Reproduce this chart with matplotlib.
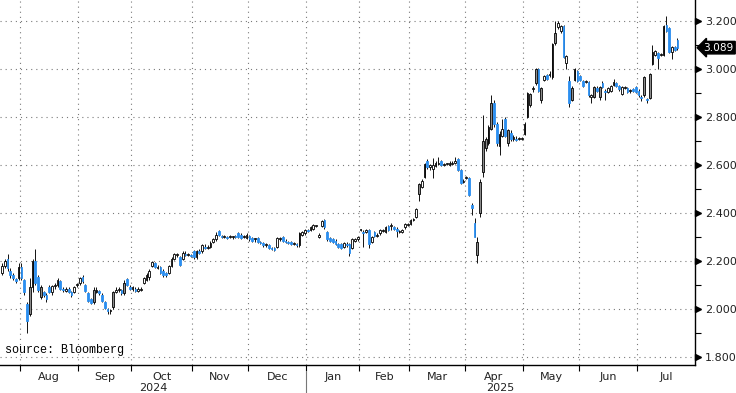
import numpy as np
import pandas as pd
import matplotlib
matplotlib.use("Agg")
import matplotlib.pyplot as plt

# daily OHLC, one bar per Tokyo trading day from 2024-07-23
opens = [
    2.15, 2.18, 2.21, 2.16, 2.14, 2.125, 2.13, 2.175, 2.12, 2.02,
    1.98, 2.09, 2.20, 2.135, 2.05, 2.07, 2.06, 2.09, 2.07, 2.095,
    2.10, 2.115, 2.085, 2.075, 2.085, 2.07, 2.07, 2.10, 2.11, 2.135,
    2.10, 2.065, 2.04, 2.03, 2.07, 2.075, 2.06, 2.03, 2.00, 1.99,
    2.01, 2.07, 2.08, 2.08, 2.065, 2.125, 2.09, 2.085, 2.085, 2.075,
    2.08, 2.11, 2.12, 2.135, 2.18, 2.19, 2.17, 2.175, 2.16, 2.15,
    2.15, 2.18, 2.21, 2.225, 2.215, 2.21, 2.23, 2.225, 2.225, 2.24,
    2.215, 2.24, 2.24, 2.26, 2.255, 2.26, 2.28, 2.29, 2.325, 2.305,
    2.30, 2.30, 2.30, 2.30, 2.305, 2.315, 2.31, 2.30, 2.295, 2.305,
    2.295, 2.29, 2.295, 2.28, 2.275, 2.265, 2.265, 2.255, 2.255, 2.26,
    2.29, 2.30, 2.285, 2.28, 2.28, 2.27, 2.27, 2.265, 2.31, 2.315,
    2.33, 2.33, 2.335, 2.345, 2.30, 2.345, 2.37, 2.32, 2.295, 2.29,
    2.285, 2.27, 2.27, 2.26, 2.27, 2.27, 2.255, 2.285, 2.29, 2.33,
    2.32, 2.32, 2.33, 2.28, 2.32, 2.305, 2.315, 2.325, 2.32, 2.345,
    2.345, 2.34, 2.335, 2.32, 2.32, 2.34, 2.35, 2.355, 2.37, 2.385,
    2.48, 2.51, 2.55, 2.615, 2.59, 2.585, 2.595, 2.605, 2.615, 2.60,
    2.605, 2.60, 2.605, 2.61, 2.625, 2.58, 2.53, 2.545, 2.545, 2.435,
    2.36, 2.225, 2.40, 2.57, 2.67, 2.69, 2.75, 2.86, 2.77, 2.68,
    2.72, 2.79, 2.69, 2.735, 2.71, 2.71, 2.71, 2.71, 2.73, 2.80,
    2.85, 2.915, 2.94, 3.00, 2.87, 2.955, 2.975, 2.975, 2.965, 3.11,
    3.175, 3.16, 3.18, 3.025, 2.95, 2.87, 2.955, 2.99, 2.97, 2.95,
    2.945, 2.945, 2.885, 2.885, 2.92, 2.885, 2.94, 2.91, 2.905, 2.91,
    2.935, 2.94, 2.93, 2.895, 2.92, 2.92, 2.91, 2.915, 2.925, 2.91,
    2.885, 2.89, 2.875, 2.88, 3.02, 3.06, 3.065, 3.06, 3.06, 3.185,
    3.17, 3.07, 3.09, 3.12,
]
highs = [
    2.19, 2.21, 2.23, 2.17, 2.15, 2.13, 2.19, 2.19, 2.125, 2.03,
    2.13, 2.21, 2.25, 2.14, 2.10, 2.075, 2.065, 2.10, 2.10, 2.11,
    2.13, 2.12, 2.09, 2.09, 2.09, 2.075, 2.095, 2.11, 2.135, 2.14,
    2.105, 2.07, 2.045, 2.09, 2.09, 2.08, 2.065, 2.035, 2.005, 2.00,
    2.075, 2.09, 2.09, 2.085, 2.12, 2.13, 2.10, 2.095, 2.09, 2.09,
    2.09, 2.135, 2.15, 2.165, 2.20, 2.195, 2.185, 2.18, 2.165, 2.155,
    2.185, 2.215, 2.235, 2.235, 2.22, 2.24, 2.24, 2.235, 2.23, 2.245,
    2.245, 2.25, 2.27, 2.27, 2.265, 2.285, 2.295, 2.32, 2.33, 2.31,
    2.31, 2.305, 2.31, 2.305, 2.31, 2.32, 2.315, 2.31, 2.315, 2.31,
    2.30, 2.295, 2.30, 2.285, 2.28, 2.275, 2.27, 2.26, 2.26, 2.30,
    2.30, 2.305, 2.29, 2.285, 2.285, 2.28, 2.275, 2.32, 2.325, 2.335,
    2.335, 2.345, 2.355, 2.35, 2.315, 2.37, 2.375, 2.325, 2.30, 2.295,
    2.29, 2.275, 2.275, 2.28, 2.28, 2.275, 2.295, 2.295, 2.305, 2.335,
    2.33, 2.335, 2.335, 2.305, 2.325, 2.315, 2.335, 2.335, 2.345, 2.35,
    2.36, 2.345, 2.34, 2.33, 2.335, 2.36, 2.36, 2.375, 2.38, 2.42,
    2.525, 2.54, 2.61, 2.625, 2.605, 2.63, 2.615, 2.635, 2.62, 2.61,
    2.61, 2.615, 2.615, 2.635, 2.63, 2.585, 2.54, 2.555, 2.55, 2.44,
    2.38, 2.30, 2.54, 2.81, 2.715, 2.765, 2.89, 2.87, 2.78, 2.74,
    2.79, 2.80, 2.75, 2.745, 2.725, 2.72, 2.715, 2.715, 2.78, 2.905,
    2.90, 2.93, 3.005, 3.005, 2.925, 2.975, 2.98, 2.99, 3.11, 3.20,
    3.20, 3.185, 3.185, 3.06, 2.97, 2.93, 3.005, 2.995, 2.975, 2.955,
    2.955, 2.95, 2.895, 2.93, 2.93, 2.93, 2.95, 2.915, 2.925, 2.935,
    2.96, 2.945, 2.935, 2.93, 2.93, 2.925, 2.915, 2.92, 2.93, 2.915,
    2.89, 2.97, 2.88, 2.985, 3.10, 3.08, 3.07, 3.065, 3.185, 3.22,
    3.175, 3.095, 3.095, 3.13,
]
lows = [
    2.14, 2.17, 2.16, 2.13, 2.12, 2.11, 2.12, 2.12, 2.06, 1.90,
    1.97, 2.07, 2.10, 2.07, 2.04, 2.05, 2.03, 2.065, 2.06, 2.085,
    2.09, 2.08, 2.07, 2.07, 2.065, 2.05, 2.065, 2.09, 2.10, 2.11,
    2.07, 2.03, 2.02, 2.02, 2.065, 2.06, 2.03, 2.00, 1.98, 1.98,
    2.00, 2.065, 2.07, 2.06, 2.06, 2.095, 2.08, 2.075, 2.07, 2.07,
    2.075, 2.105, 2.115, 2.12, 2.175, 2.17, 2.165, 2.145, 2.135, 2.135,
    2.145, 2.175, 2.205, 2.215, 2.18, 2.205, 2.22, 2.22, 2.215, 2.21,
    2.21, 2.23, 2.235, 2.25, 2.25, 2.255, 2.275, 2.285, 2.305, 2.295,
    2.295, 2.29, 2.295, 2.29, 2.295, 2.295, 2.29, 2.295, 2.29, 2.285,
    2.28, 2.28, 2.275, 2.27, 2.26, 2.26, 2.25, 2.245, 2.24, 2.255,
    2.285, 2.28, 2.275, 2.27, 2.265, 2.265, 2.26, 2.26, 2.305, 2.31,
    2.32, 2.325, 2.33, 2.34, 2.295, 2.34, 2.335, 2.285, 2.28, 2.275,
    2.265, 2.255, 2.25, 2.255, 2.26, 2.22, 2.25, 2.28, 2.285, 2.325,
    2.26, 2.315, 2.255, 2.275, 2.30, 2.30, 2.31, 2.32, 2.315, 2.325,
    2.33, 2.33, 2.30, 2.315, 2.315, 2.335, 2.345, 2.35, 2.365, 2.38,
    2.45, 2.505, 2.545, 2.585, 2.58, 2.545, 2.59, 2.60, 2.595, 2.595,
    2.60, 2.595, 2.60, 2.605, 2.575, 2.52, 2.525, 2.54, 2.47, 2.39,
    2.30, 2.19, 2.385, 2.55, 2.66, 2.685, 2.745, 2.76, 2.68, 2.64,
    2.715, 2.715, 2.68, 2.70, 2.70, 2.70, 2.705, 2.705, 2.725, 2.795,
    2.84, 2.905, 2.935, 2.905, 2.86, 2.95, 2.955, 2.965, 2.96, 3.10,
    3.165, 3.15, 3.045, 3.00, 2.84, 2.865, 2.95, 2.945, 2.95, 2.925,
    2.94, 2.885, 2.86, 2.88, 2.905, 2.87, 2.92, 2.87, 2.90, 2.905,
    2.93, 2.925, 2.91, 2.89, 2.915, 2.90, 2.90, 2.905, 2.90, 2.885,
    2.865, 2.885, 2.86, 2.875, 3.015, 3.055, 3.00, 3.055, 3.055, 3.155,
    3.065, 3.04, 3.075, 3.08,
]
closes = [
    2.18, 2.20, 2.17, 2.14, 2.13, 2.115, 2.175, 2.13, 2.07, 1.95,
    2.09, 2.20, 2.11, 2.08, 2.09, 2.06, 2.04, 2.07, 2.095, 2.10,
    2.12, 2.085, 2.08, 2.085, 2.07, 2.06, 2.09, 2.10, 2.13, 2.115,
    2.075, 2.035, 2.025, 2.08, 2.08, 2.065, 2.035, 2.005, 1.99, 1.995,
    2.07, 2.08, 2.085, 2.065, 2.11, 2.10, 2.085, 2.09, 2.075, 2.085,
    2.08, 2.13, 2.14, 2.16, 2.195, 2.175, 2.175, 2.15, 2.14, 2.14,
    2.18, 2.21, 2.23, 2.23, 2.185, 2.235, 2.225, 2.23, 2.22, 2.215,
    2.24, 2.235, 2.265, 2.255, 2.26, 2.275, 2.29, 2.31, 2.31, 2.30,
    2.305, 2.295, 2.305, 2.30, 2.30, 2.30, 2.295, 2.305, 2.31, 2.29,
    2.285, 2.29, 2.28, 2.275, 2.265, 2.265, 2.255, 2.25, 2.245, 2.295,
    2.295, 2.285, 2.28, 2.275, 2.27, 2.275, 2.265, 2.315, 2.32, 2.33,
    2.325, 2.34, 2.35, 2.345, 2.31, 2.365, 2.34, 2.29, 2.285, 2.28,
    2.27, 2.26, 2.255, 2.275, 2.265, 2.235, 2.29, 2.29, 2.30, 2.33,
    2.315, 2.33, 2.27, 2.30, 2.305, 2.31, 2.33, 2.33, 2.34, 2.33,
    2.345, 2.335, 2.325, 2.325, 2.33, 2.355, 2.355, 2.37, 2.375, 2.415,
    2.52, 2.535, 2.605, 2.59, 2.60, 2.60, 2.61, 2.61, 2.60, 2.605,
    2.605, 2.61, 2.61, 2.615, 2.58, 2.525, 2.535, 2.55, 2.475, 2.42,
    2.30, 2.28, 2.53, 2.70, 2.71, 2.76, 2.86, 2.77, 2.69, 2.73,
    2.75, 2.72, 2.745, 2.71, 2.715, 2.705, 2.71, 2.71, 2.77, 2.90,
    2.895, 2.92, 3.00, 2.91, 2.92, 2.97, 2.96, 2.98, 3.105, 3.15,
    3.19, 3.18, 3.05, 3.055, 2.86, 2.92, 3.00, 2.95, 2.955, 2.93,
    2.95, 2.89, 2.89, 2.925, 2.91, 2.925, 2.925, 2.905, 2.92, 2.93,
    2.945, 2.93, 2.915, 2.925, 2.925, 2.905, 2.91, 2.91, 2.905, 2.89,
    2.88, 2.965, 2.87, 2.98, 3.07, 3.075, 3.045, 3.06, 3.18, 3.16,
    3.07, 3.09, 3.08, 3.089,
]

jp_holidays = [
    "2024-08-12", "2024-09-16", "2024-09-23", "2024-10-14", "2024-11-04",
    "2024-12-31", "2025-01-01", "2025-01-02", "2025-01-03", "2025-01-13",
    "2025-02-11", "2025-02-24", "2025-03-20", "2025-04-29", "2025-05-05",
    "2025-05-06", "2025-07-21",
]
dates = pd.bdate_range("2024-07-23", "2025-07-22", freq="C", holidays=jp_holidays)

y_ticks = [1.8, 2.0, 2.2, 2.4, 2.6, 2.8, 3.0, 3.2]
source_text = "source: Bloomberg"

blue = "#2b8ff0"
grey = "#8c8c8c"
txt = "#222222"

o = np.array(opens)
h = np.array(highs)
l = np.array(lows)
c = np.array(closes)
n = len(c)
x = np.arange(n)
dates = dates[:n]

fig = plt.figure(figsize=(7.36, 3.93), dpi=100)
ax = fig.add_axes([0, 28 / 393, 695 / 736, 365 / 393])
ax.set_xlim(-0.7, 249.3)
ax.set_ylim(1.767, 3.2875)

# month boundaries (between last bar of a month and first of the next)
months = dates.to_period("M")
starts = [i for i in range(1, n) if months[i] != months[i - 1]]
bounds = [s - 0.5 for s in starts]

grid_kw = dict(color="#7a7a7a", lw=0.8, ls=(0, (1, 3.6)), zorder=0)
for yv in y_ticks:
    ax.axhline(yv, **grid_kw)
for b in bounds:
    ax.axvline(b, **grid_kw)

# candles
ax.vlines(x, l, h, color="#111111", lw=0.7, zorder=2)
up = c >= o
body_lo = np.minimum(o, c)
body_h = np.maximum(np.abs(c - o), 0.004)
face = [blue if not u else (grey if (cc - oo) >= 0.04 else "white")
        for u, oo, cc in zip(up, o, c)]
edge = ["black" if u else blue for u in up]
ax.bar(x, body_h, bottom=body_lo, width=0.62, color=face, edgecolor=edge,
       linewidth=0.6, zorder=3)

# axes look
for side in ["left", "top"]:
    ax.spines[side].set_visible(False)
ax.spines["right"].set_linewidth(1.0)
ax.spines["bottom"].set_linewidth(1.0)

ax.yaxis.tick_right()
ax.set_yticks(y_ticks)
ax.set_yticklabels([f"{v:.3f}" for v in y_ticks], color=txt, fontsize=8)
ax.set_yticks([v + 0.1 for v in y_ticks[:-1]], minor=True)
ax.tick_params(axis="y", which="major", length=0, pad=7)
ax.tick_params(axis="y", which="minor", length=4, width=0.8)
ytr = ax.get_yaxis_transform()
ax.plot([1.0045] * len(y_ticks), y_ticks, ls="none", marker=">", ms=4.5,
        color="black", transform=ytr, clip_on=False)

ax.set_xticks(bounds)
ax.set_xticklabels([])
ax.tick_params(axis="x", length=4, width=0.8)

# month and year labels
xtr = ax.get_xaxis_transform()
right_edge = ax.get_xlim()[1]
for k, s in enumerate(starts):
    e = starts[k + 1] - 0.5 if k + 1 < len(starts) else right_edge
    mid = (s - 0.5 + e) / 2
    ax.text(mid, -0.033, dates[s].strftime("%b"), transform=xtr, ha="center",
            va="center", fontsize=8, color=txt)

year_split = [b for b, s in zip(bounds, starts) if dates[s].month == 1][0]
ax.text((ax.get_xlim()[0] + year_split) / 2, -0.062, "2024", transform=xtr,
        ha="center", va="center", fontsize=8, color=txt)
ax.text((year_split + right_edge) / 2, -0.062, "2025", transform=xtr,
        ha="center", va="center", fontsize=8, color=txt)
ax.plot([year_split, year_split], [-0.02, -0.08], transform=xtr, color="#777777",
        lw=0.8, clip_on=False)

# last value tag
ax.text(1.0125, c[-1], f"{c[-1]:.3f}", transform=ytr, ha="left", va="center",
        fontsize=7.6, color="white",
        bbox=dict(boxstyle="larrow,pad=0.12", fc="black", ec="black"))

ax.text(0.007, 0.042, source_text, transform=ax.transAxes, ha="left",
        va="center", fontsize=8.5, family="Liberation Mono", color="black")

fig.savefig("out.png", dpi=100)
